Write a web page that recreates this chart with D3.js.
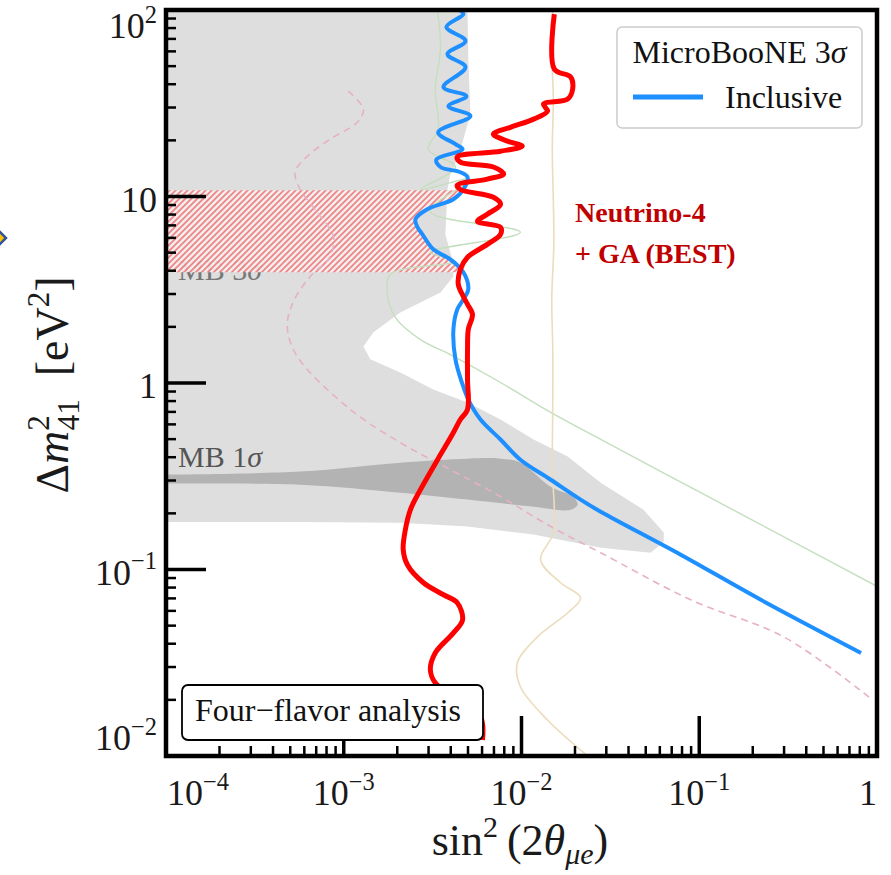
<!DOCTYPE html>
<html>
<head>
<meta charset="utf-8">
<script src="https://cdn.jsdelivr.net/npm/d3@7"></script>
<style>
  body { margin: 0; background: #fff; }
  svg text { font-family: "Liberation Serif", "Times New Roman", serif; }
</style>
</head>
<body>
<div id="chart"></div>
<script>
// every point is [sin^2(2theta_mue), dm2_41 in eV^2]
var inclusive = [
    [4.48e-3,100],[4.71e-3,95.2],[3.78e-3,81.0],[4.84e-3,68.2],[3.83e-3,58.0],[4.84e-3,49.4],
    [3.64e-3,38.6],[4.90e-3,34.5],[3.88e-3,30.5],[5.16e-3,27.0],[3.40e-3,22.1],[4.25e-3,19.1],
    [4.66e-3,17.9],[3.32e-3,15.8],[3.50e-3,14.4],[4.53e-3,13.5],[4.97e-3,12.7],[4.71e-3,10.9],
    [4.14e-3,9.67],[2.95e-3,8.55],[2.53e-3,7.55],[2.60e-3,6.84],[2.77e-3,6.27],[3.19e-3,5.21],
    [3.98e-3,4.60],[4.71e-3,3.92],[5.02e-3,3.18],[4.71e-3,2.81],[4.35e-3,2.48],[4.14e-3,1.94],
    [4.25e-3,1.34],[4.66e-3,0.982],[5.02e-3,0.815],[5.88e-3,0.637],[7.62e-3,0.498],[9.86e-3,0.388],
    [1.46e-2,0.303],[2.15e-2,0.237],[2.79e-2,0.204],[0.0787,0.120],[0.222,0.0688],[0.813,0.0357]
];
var neutrino4 = [
    [1.53e-2,95],[1.53e-2,48.2],[1.89e-2,43.7],[1.94e-2,37.7],[1.82e-2,33.3],[1.33e-2,31.3],
    [1.40e-2,28.7],[1.17e-2,26.0],[8.67e-3,23.5],[6.95e-3,21.6],[8.34e-3,19.8],[1.01e-2,18.6],
    [7.62e-3,17.5],[4.35e-3,16.3],[4.53e-3,15.3],[6.95e-3,14.4],[7.93e-3,13.2],[6.42e-3,12.4],
    [4.35e-3,11.5],[4.53e-3,10.9],[6.95e-3,9.91],[7.62e-3,9.09],[6.42e-3,8.03],[5.65e-3,7.36],
    [7.62e-3,6.84],[7.62e-3,6.27],[6.42e-3,5.54],[4.97e-3,4.72],[4.53e-3,4.07],[4.41e-3,3.38],
    [4.71e-3,2.91],[4.97e-3,2.64],[5.30e-3,2.33],[5.02e-3,1.94],[4.97e-3,1.51],[4.97e-3,1.04],
    [4.97e-3,0.721],[4.53e-3,0.637],[4.08e-3,0.529],[3.37e-3,0.388],[2.70e-3,0.268],[2.37e-3,0.209],
    [2.22e-3,0.163],[2.16e-3,0.128],[2.28e-3,0.106],[2.81e-3,0.0849],[3.64e-3,0.0732],[4.35e-3,0.0663],
    [4.66e-3,0.0537],[4.14e-3,0.0457],[3.27e-3,0.0357],[3.07e-3,0.0290],[3.27e-3,0.0247],[4.35e-3,0.0200],
    [5.88e-3,0.0162],[6.03e-3,0.0122]
];
var mb3sigma = [
    [1e-4,100],[4.97e-3,100],[5.02e-3,54.6],[5.16e-3,27.6],[4.71e-3,20.3],[4.35e-3,15.8],
    [3.98e-3,13.2],[3.83e-3,10.8],[3.73e-3,6.27],[4.08e-3,4.60],[4.14e-3,3.73],[3.50e-3,3.06],
    [2.08e-3,2.39],[1.47e-3,1.87],[1.29e-3,1.57],[1.41e-3,1.34],[2.08e-3,1.14],[3.19e-3,0.923],
    [4.97e-3,0.786],[7.62e-3,0.637],[1.17e-2,0.498],[1.82e-2,0.403],[2.79e-2,0.292],[0.0486,0.209],
    [0.0631,0.158],[0.0631,0.141],[0.0533,0.123],[2.79e-2,0.131],[1.17e-2,0.154],[4.97e-3,0.170],
    [2.08e-3,0.178],[5.69e-4,0.180],[1e-4,0.180]
];
var mb1sigma = [
    [1e-4,0.323],[5.69e-4,0.335],[2.08e-3,0.374],[4.97e-3,0.393],[7.62e-3,0.393],[9.86e-3,0.374],
    [1.46e-2,0.278],[1.94e-2,0.246],[2.07e-2,0.223],[1.89e-2,0.209],[1.17e-2,0.217],[4.97e-3,0.237],
    [2.08e-3,0.258],[5.69e-4,0.285],[1e-4,0.289]
];
var dashedPink = [
    [1.06e-3,36.7],[1.29e-3,29.4],[1.19e-3,25.0],[8.39e-4,20.3],[6.23e-4,16.4],[5.33e-4,13.5],
    [5.69e-4,10.9],[7.09e-4,8.23],[8.73e-4,6.12],[8.39e-4,4.78],[6.48e-4,3.73],[5.19e-4,2.71],
    [4.81e-4,2.01],[5.47e-4,1.39],[1.09e-3,0.721],[2.08e-3,0.479],[3.98e-3,0.343],[7.62e-3,0.246],
    [1.46e-2,0.170],[2.79e-2,0.123],[0.0895,0.0688],[0.299,0.0435],[0.902,0.0207]
];
var greenLine = [
    [3.37e-3,100],[3.50e-3,61.8],[3.27e-3,37.7],[3.40e-3,23.0],[2.99e-3,17.9],[4.25e-3,14.4],
    [2.70e-3,10.9],[5.16e-3,12.4],[3.07e-3,8.33],[9.86e-3,6.43],[3.07e-3,5.02],[4.25e-3,4.49],
    [1.83e-3,3.83],[1.76e-3,2.99],[1.95e-3,2.25],[2.70e-3,1.71],[3.98e-3,1.42],[7.62e-3,1.006],
    [1.46e-2,0.695],[2.79e-2,0.498],[0.102,0.258],[0.373,0.134],[1.01,0.0808]
];
var tanLine = [
    [1.50e-2,100],[1.48e-2,60],[1.51e-2,33.3],[1.49e-2,18],[1.51e-2,9.67],[1.52e-2,5.5],
    [1.48e-2,2.81],[1.50e-2,1.5],[1.50e-2,0.815],[1.49e-2,0.35],[1.51e-2,0.158],[1.28e-2,0.113],
    [1.66e-2,0.0849],[2.15e-2,0.0705],[1.82e-2,0.0586],[1.23e-2,0.0435],[9.48e-3,0.0316],
    [9.86e-3,0.0235],[1.40e-2,0.0156],[2.36e-2,0.01]
];
var n4Range = [3.92, 10.8];   // hatched Neutrino-4 band in dm2

var xTicks = [1e-4, 1e-3, 1e-2, 1e-1, 1];
var xTickLabels = [["10","\u22124"],["10","\u22123"],["10","\u22122"],["10","\u22121"],["1",""]];
var yTicks = [1e-2, 1e-1, 1, 10, 100];
var yTickLabels = [["10","\u22122"],["10","\u22121"],["1",""],["10",""],["10","2"]];

var W = 891, H = 875;
var m = {left: 166, right: 877, top: 10, bottom: 756};

var x = d3.scaleLog().domain([1e-4, 1]).range([m.left, m.right]);
var y = d3.scaleLog().domain([1e-2, 1e2]).range([m.bottom, m.top]);

var svg = d3.select('#chart').append('svg')
    .attr('width', W)
    .attr('height', H);

var defs = svg.append('defs');
defs.append('clipPath').attr('id', 'plotclip')
    .append('rect')
    .attr('x', m.left).attr('y', m.top)
    .attr('width', m.right - m.left).attr('height', m.bottom - m.top);
var pat = defs.append('pattern')
    .attr('id', 'hatch')
    .attr('patternUnits', 'userSpaceOnUse')
    .attr('width', 6).attr('height', 6);
pat.append('rect').attr('width', 6).attr('height', 6).attr('fill', '#f5eeee');
pat.append('path')
    .attr('d', 'M-1,1 l2,-2 M0,6 l6,-6 M5,7 l2,-2')
    .attr('stroke', '#f27c7c')
    .attr('stroke-width', 1.7);

var plot = svg.append('g').attr('clip-path', 'url(#plotclip)');

var line = d3.line().x(d => x(d[0])).y(d => y(d[1]));
var smooth = d3.line().x(d => x(d[0])).y(d => y(d[1])).curve(d3.curveCatmullRom.alpha(0.5));

// regions
plot.append('path').attr('d', line(mb3sigma) + 'Z').attr('fill', '#dedede');
plot.append('path').attr('d', smooth(mb1sigma) + 'Z').attr('fill', '#b3b3b3');

plot.append('text')
    .attr('x', m.left + 12).attr('y', 280)
    .attr('font-size', 30).attr('fill', '#777')
    .text('MB 3').append('tspan').attr('font-style', 'italic').text('\u03c3');

// hatched band left of the inclusive curve
function xOnCurve(curve, v) {
    for (var i = 0; i < curve.length - 1; i++) {
        var a = curve[i], b = curve[i + 1];
        if ((a[1] - v) * (b[1] - v) <= 0) {
            var t = (Math.log(v) - Math.log(a[1])) / (Math.log(b[1]) - Math.log(a[1]));
            return Math.exp(Math.log(a[0]) + t * (Math.log(b[0]) - Math.log(a[0])));
        }
    }
    return curve[curve.length - 1][0];
}
var hatchPoly = [[1e-4, n4Range[1]], [xOnCurve(inclusive, n4Range[1]), n4Range[1]]]
    .concat(inclusive.filter(d => d[1] < n4Range[1] && d[1] > n4Range[0]))
    .concat([[xOnCurve(inclusive, n4Range[0]), n4Range[0]], [1e-4, n4Range[0]]]);
plot.append('path').attr('d', line(hatchPoly) + 'Z')
    .attr('fill', 'url(#hatch)').attr('opacity', 0.92);

// thin lines of other results
plot.append('path').attr('d', smooth(dashedPink))
    .attr('fill', 'none').attr('stroke', '#e6b0c6').attr('stroke-width', 1.6)
    .attr('stroke-dasharray', '7,5');
plot.append('path').attr('d', smooth(greenLine))
    .attr('fill', 'none').attr('stroke', '#c3dfbd').attr('stroke-width', 1.4);
plot.append('path').attr('d', smooth(tanLine))
    .attr('fill', 'none').attr('stroke', '#ecdcbc').attr('stroke-width', 1.6);

// MicroBooNE inclusive
plot.append('path').attr('d', smooth(inclusive))
    .attr('fill', 'none').attr('stroke', '#1e8fff').attr('stroke-width', 4);

plot.append('text')
    .attr('x', m.left + 12).attr('y', 467)
    .attr('font-size', 30).attr('fill', '#555')
    .text('MB 1').append('tspan').attr('font-style', 'italic').text('\u03c3');

// axes ticks (drawn before the analysis box, which covers part of them)
var axes = svg.append('g');
var xMinor = [], yMinor = [];
d3.range(-4, 0).forEach(e => d3.range(2, 10).forEach(k => xMinor.push(k * Math.pow(10, e))));
d3.range(-2, 2).forEach(e => d3.range(2, 10).forEach(k => yMinor.push(k * Math.pow(10, e))));

axes.selectAll('.xminor').data(xMinor).enter().append('line')
    .attr('x1', d => x(d)).attr('x2', d => x(d))
    .attr('y1', m.bottom).attr('y2', m.bottom - 10)
    .attr('stroke', '#000').attr('stroke-width', 2.5);
axes.selectAll('.xmajor').data(xTicks).enter().append('line')
    .attr('x1', d => x(d)).attr('x2', d => x(d))
    .attr('y1', m.bottom).attr('y2', m.bottom - 40)
    .attr('stroke', '#000').attr('stroke-width', 3.5);
axes.selectAll('.yminor').data(yMinor).enter().append('line')
    .attr('x1', m.left).attr('x2', m.left + 10)
    .attr('y1', d => y(d)).attr('y2', d => y(d))
    .attr('stroke', '#000').attr('stroke-width', 2.5);
axes.selectAll('.ymajor').data(yTicks).enter().append('line')
    .attr('x1', m.left).attr('x2', m.left + 40)
    .attr('y1', d => y(d)).attr('y2', d => y(d))
    .attr('stroke', '#000').attr('stroke-width', 3.5);

// analysis label box
svg.append('rect')
    .attr('x', 182).attr('y', 685).attr('width', 301).attr('height', 55)
    .attr('rx', 6)
    .attr('fill', '#fff').attr('stroke', '#000').attr('stroke-width', 1.8);
svg.append('text')
    .attr('x', 195).attr('y', 721)
    .attr('font-size', 32).attr('fill', '#111')
    .text('Four\u2212flavor analysis');

// Neutrino-4 + GA
plot.append('path').attr('d', smooth(neutrino4))
    .attr('fill', 'none').attr('stroke', '#ff0000').attr('stroke-width', 5)
    .attr('stroke-linejoin', 'round');

svg.append('text')
    .attr('x', 575).attr('y', 222)
    .attr('font-size', 28).attr('font-weight', 'bold').attr('fill', '#c00000')
    .text('Neutrino-4');
svg.append('text')
    .attr('x', 575).attr('y', 263)
    .attr('font-size', 28).attr('font-weight', 'bold').attr('fill', '#c00000')
    .text('+ GA (BEST)');

// legend
var leg = svg.append('g');
leg.append('rect')
    .attr('x', 617).attr('y', 27).attr('width', 245).attr('height', 101).attr('rx', 5)
    .attr('fill', '#fff').attr('fill-opacity', 0.85)
    .attr('stroke', '#cccccc').attr('stroke-width', 1.5);
var lt = leg.append('text')
    .attr('x', 739.5).attr('y', 63)
    .attr('text-anchor', 'middle').attr('font-size', 32).attr('fill', '#111')
    .text('MicroBooNE 3');
lt.append('tspan').attr('font-style', 'italic').text('\u03c3');
leg.append('line')
    .attr('x1', 633).attr('x2', 703).attr('y1', 97).attr('y2', 97)
    .attr('stroke', '#1e8fff').attr('stroke-width', 5);
leg.append('text')
    .attr('x', 725).attr('y', 108).attr('font-size', 32).attr('fill', '#111')
    .text('Inclusive');

// spines
svg.append('rect')
    .attr('x', m.left).attr('y', m.top)
    .attr('width', m.right - m.left).attr('height', m.bottom - m.top)
    .attr('fill', 'none').attr('stroke', '#000').attr('stroke-width', 4.5);

// tick labels
function powLabel(sel, lab, fs) {
    sel.append('tspan').text(lab[0]);
    if (lab[1]) sel.append('tspan').attr('font-size', fs * 0.68).attr('dy', -fs * 0.42).text(lab[1]);
}
xTicks.forEach(function (v, i) {
    var t = svg.append('text')
        .attr('x', x(v) + (i == 0 ? 1 : 0)).attr('y', 805)
        .attr('font-size', 36).attr('fill', '#1a1a1a')
        .attr('text-anchor', i == 0 ? 'start' : (i == xTicks.length - 1 ? 'end' : 'middle'));
    powLabel(t, xTickLabels[i], 36);
});
yTicks.forEach(function (v, i) {
    var t = svg.append('text')
        .attr('x', 157).attr('y', Math.max(38, Math.min(750, y(v) + 15)))
        .attr('font-size', 36).attr('fill', '#1a1a1a')
        .attr('text-anchor', 'end');
    powLabel(t, yTickLabels[i], 36);
});

// axis titles
var xt = svg.append('text')
    .attr('x', 520).attr('y', 855)
    .attr('text-anchor', 'middle').attr('font-size', 44).attr('fill', '#1a1a1a');
xt.append('tspan').text('sin');
xt.append('tspan').attr('font-size', 30).attr('dy', -18).text('2');
xt.append('tspan').attr('dy', 18).text('\u2009(2');
xt.append('tspan').attr('font-style', 'italic').text('\u03b8');
xt.append('tspan').attr('font-style', 'italic').attr('font-size', 30).attr('dy', 9).text('\u03bce');
xt.append('tspan').attr('dy', -9).text(')');

var yt = svg.append('text')
    .attr('transform', 'translate(68,385) rotate(-90)')
    .attr('text-anchor', 'middle').attr('font-size', 46).attr('fill', '#1a1a1a');
yt.append('tspan').text('\u0394');
yt.append('tspan').attr('font-style', 'italic').text('m');
yt.append('tspan').attr('font-size', 31).attr('dy', -19).text('2');
yt.append('tspan').attr('font-size', 31).attr('dx', -15).attr('dy', 30).text('41');
yt.append('tspan').attr('dy', -11).text('\u2002[eV');
yt.append('tspan').attr('font-size', 31).attr('dy', -19).text('2');
yt.append('tspan').attr('dy', 19).text(']');

// slide bullet peeking in at the left edge
svg.append('path')
    .attr('d', 'M-6,238 L0,232 L6,238 L0,244 Z')
    .attr('fill', '#ffc000').attr('stroke', '#2f5597').attr('stroke-width', 2.5);
</script>
</body>
</html>
